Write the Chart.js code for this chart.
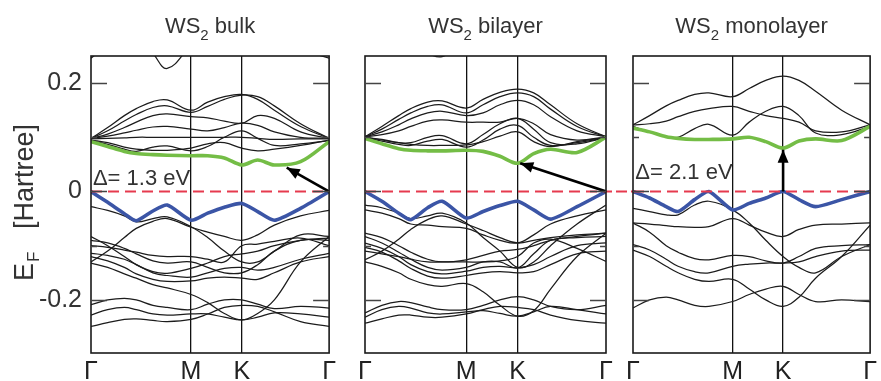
<!DOCTYPE html>
<html>
<head>
<meta charset="utf-8">
<script src="https://cdn.jsdelivr.net/npm/chart.js@4.4.1/dist/chart.umd.min.js"></script>
<style>
  body { margin: 0; background: #fff; width: 881px; height: 381px; overflow: hidden; position: relative; }
  .panel { position: absolute; top: 0; height: 381px; }
</style>
</head>
<body>
<div class="panel" style="left:0;width:340px"><canvas id="bulk"></canvas></div>
<div class="panel" style="left:340px;width:281px"><canvas id="bilayer"></canvas></div>
<div class="panel" style="left:621px;width:260px"><canvas id="monolayer"></canvas></div>

<script>
// k-path positions (Γ - M - K - Γ), shared by all panels
const X_POS = [0, 0.07, 0.14, 0.19, 0.26, 0.32, 0.42, 0.49, 0.56, 0.633, 0.7, 0.77, 0.88, 1];
const X_TICKS = [0, 0.42, 0.633, 1];
const X_LABELS = ['Γ', 'M', 'K', 'Γ'];
const Y_TICKS = [-0.2, 0, 0.2];
const Y_LABELS = ['-0.2', '0', '0.2'];
const Y_MINOR = [-0.1, 0.1];
const FERMI_X = [0, 1];
const FERMI_Y = [0, 0];

const TITLES = ['bulk', 'bilayer', 'monolayer'];
const GAP_LABELS = ['Δ= 1.3 eV', '', 'Δ= 2.1 eV'];

// ---- WS2 bulk ----
const BULK_CB = [0.092, 0.083, 0.074, 0.07, 0.068, 0.067, 0.066, 0.066, 0.062, 0.049, 0.058, 0.049, 0.055, 0.092];
const BULK_VB = [0, -0.02, -0.041, -0.054, -0.036, -0.025, -0.053, -0.04, -0.029, -0.022, -0.037, -0.053, -0.031, 0];
const BULK_BANDS = [
  [0.246, 0.27, 0.29, 0.29, 0.255, 0.227, 0.27, 0.3, 0.3, 0.3, 0.3, 0.28, 0.262, 0.246],
  [0.098, 0.118, 0.14, 0.153, 0.166, 0.169, 0.15, 0.165, 0.175, 0.179, 0.17, 0.15, 0.12, 0.098],
  [0.098, 0.112, 0.13, 0.142, 0.155, 0.158, 0.146, 0.157, 0.17, 0.178, 0.175, 0.158, 0.125, 0.098],
  [0.098, 0.106, 0.118, 0.128, 0.14, 0.143, 0.138, 0.136, 0.13, 0.126, 0.14, 0.135, 0.11, 0.098],
  [0.098, 0.102, 0.108, 0.113, 0.119, 0.12, 0.115, 0.112, 0.118, 0.126, 0.122, 0.11, 0.1, 0.098],
  [0.097, 0.098, 0.099, 0.1, 0.1, 0.1, 0.1, 0.1, 0.1, 0.1, 0.098, 0.096, 0.097, 0.097],
  [0.094, 0.087, 0.078, 0.074, 0.082, 0.084, 0.075, 0.083, 0.1, 0.112, 0.098, 0.085, 0.088, 0.094],
  [0.095, 0.09, 0.082, 0.078, 0.076, 0.076, 0.08, 0.088, 0.09, 0.08, 0.075, 0.078, 0.085, 0.095],
  [-0.028, -0.035, -0.045, -0.056, -0.05, -0.047, -0.065, -0.085, -0.11, -0.13, -0.13, -0.11, -0.08, -0.083],
  [-0.13, -0.11, -0.085, -0.068, -0.055, -0.05, -0.066, -0.075, -0.083, -0.09, -0.08, -0.062, -0.045, -0.035],
  [-0.083, -0.1, -0.12, -0.135, -0.148, -0.151, -0.142, -0.132, -0.12, -0.115, -0.11, -0.1, -0.09, -0.086],
  [-0.09, -0.095, -0.105, -0.115, -0.128, -0.132, -0.13, -0.14, -0.15, -0.15, -0.135, -0.11, -0.09, -0.09],
  [-0.114, -0.118, -0.125, -0.135, -0.15, -0.155, -0.158, -0.15, -0.142, -0.14, -0.145, -0.14, -0.125, -0.114],
  [-0.12, -0.128, -0.14, -0.152, -0.162, -0.166, -0.165, -0.16, -0.158, -0.16, -0.162, -0.15, -0.13, -0.12],
  [-0.132, -0.14, -0.152, -0.16, -0.172, -0.178, -0.19, -0.205, -0.225, -0.237, -0.225, -0.2, -0.13, -0.083],
  [-0.1, -0.103, -0.108, -0.112, -0.118, -0.12, -0.12, -0.125, -0.13, -0.1, -0.097, -0.092, -0.086, -0.1],
  [-0.209, -0.2, -0.197, -0.2, -0.21, -0.214, -0.218, -0.208, -0.2, -0.2, -0.208, -0.216, -0.212, -0.215],
  [-0.228, -0.218, -0.214, -0.218, -0.226, -0.228, -0.226, -0.226, -0.232, -0.237, -0.232, -0.224, -0.226, -0.232],
  [-0.249, -0.242, -0.236, -0.235, -0.238, -0.24, -0.236, -0.226, -0.214, -0.21, -0.212, -0.222, -0.24, -0.249]
];
const BULK_ARROW_X = [1, 0.822];
const BULK_ARROW_Y = [0, 0.044];

// ---- WS2 bilayer ----
const BI_CB = [0.098, 0.088, 0.079, 0.076, 0.075, 0.075, 0.076, 0.074, 0.065, 0.052, 0.07, 0.078, 0.072, 0.1];
const BI_VB = [0, -0.018, -0.04, -0.052, -0.03, -0.018, -0.049, -0.037, -0.026, -0.018, -0.034, -0.051, -0.028, 0];
const BI_BANDS = [
  [0.3, 0.3, 0.29, 0.275, 0.255, 0.249, 0.275, 0.3, 0.3, 0.3, 0.3, 0.3, 0.3, 0.3],
  [0.101, 0.12, 0.14, 0.153, 0.165, 0.167, 0.154, 0.17, 0.183, 0.189, 0.182, 0.16, 0.125, 0.101],
  [0.101, 0.115, 0.133, 0.145, 0.157, 0.16, 0.145, 0.16, 0.175, 0.182, 0.175, 0.152, 0.12, 0.101],
  [0.101, 0.11, 0.123, 0.134, 0.145, 0.148, 0.14, 0.145, 0.16, 0.168, 0.16, 0.138, 0.112, 0.101],
  [0.101, 0.105, 0.112, 0.12, 0.13, 0.132, 0.128, 0.128, 0.128, 0.135, 0.125, 0.105, 0.095, 0.101],
  [0.1, 0.095, 0.09, 0.09, 0.1, 0.103, 0.088, 0.105, 0.125, 0.135, 0.115, 0.09, 0.088, 0.1],
  [0.099, 0.093, 0.087, 0.085, 0.093, 0.096, 0.082, 0.095, 0.115, 0.122, 0.1, 0.085, 0.09, 0.099],
  [0.1, 0.096, 0.09, 0.087, 0.085, 0.085, 0.086, 0.092, 0.102, 0.11, 0.092, 0.083, 0.092, 0.1],
  [-0.025, -0.03, -0.04, -0.05, -0.045, -0.04, -0.058, -0.085, -0.11, -0.14, -0.13, -0.1, -0.06, -0.025],
  [-0.034, -0.04, -0.05, -0.06, -0.062, -0.065, -0.068, -0.08, -0.09, -0.095, -0.08, -0.06, -0.045, -0.034],
  [-0.126, -0.11, -0.088, -0.07, -0.052, -0.045, -0.06, -0.072, -0.085, -0.095, -0.09, -0.085, -0.08, -0.077],
  [-0.077, -0.085, -0.1, -0.112, -0.125, -0.13, -0.126, -0.118, -0.11, -0.107, -0.1, -0.09, -0.083, -0.077],
  [-0.083, -0.095, -0.112, -0.125, -0.14, -0.145, -0.14, -0.13, -0.13, -0.141, -0.115, -0.09, -0.085, -0.083],
  [-0.095, -0.105, -0.12, -0.135, -0.148, -0.152, -0.147, -0.14, -0.138, -0.141, -0.135, -0.12, -0.1, -0.095],
  [-0.103, -0.112, -0.128, -0.142, -0.156, -0.16, -0.155, -0.15, -0.148, -0.15, -0.148, -0.135, -0.115, -0.11],
  [-0.11, -0.115, -0.12, -0.125, -0.13, -0.13, -0.13, -0.13, -0.128, -0.12, -0.095, -0.088, -0.105, -0.129],
  [-0.13, -0.138, -0.15, -0.162, -0.172, -0.175, -0.17, -0.185, -0.21, -0.23, -0.22, -0.18, -0.12, -0.077],
  [-0.224, -0.21, -0.203, -0.205, -0.213, -0.218, -0.218, -0.21, -0.2, -0.194, -0.2, -0.212, -0.218, -0.21],
  [-0.232, -0.218, -0.212, -0.215, -0.224, -0.226, -0.222, -0.22, -0.225, -0.23, -0.222, -0.212, -0.218, -0.226],
  [-0.243, -0.235, -0.228, -0.228, -0.232, -0.232, -0.226, -0.218, -0.212, -0.214, -0.218, -0.228, -0.238, -0.243]
];
const BI_ARROW_X = [1, 0.644];
const BI_ARROW_Y = [0, 0.052];

// ---- WS2 monolayer ----
const MONO_CB = [0.117, 0.11, 0.101, 0.098, 0.096, 0.096, 0.097, 0.1, 0.092, 0.08, 0.093, 0.097, 0.094, 0.12];
const MONO_VB = [0, -0.012, -0.028, -0.037, -0.015, 0, -0.034, -0.022, -0.012, 0, -0.015, -0.028, -0.015, 0];
const MONO_BANDS = [
  [0.123, 0.14, 0.158, 0.168, 0.179, 0.182, 0.175, 0.19, 0.205, 0.213, 0.205, 0.185, 0.15, 0.123],
  [0.123, 0.125, 0.13, 0.138, 0.148, 0.153, 0.157, 0.148, 0.14, 0.135, 0.128, 0.112, 0.11, 0.123],
  [0.12, 0.11, 0.101, 0.1, 0.116, 0.124, 0.104, 0.128, 0.148, 0.157, 0.14, 0.108, 0.105, 0.12],
  [-0.031, -0.037, -0.043, -0.043, -0.025, -0.018, -0.034, -0.058, -0.09, -0.12, -0.14, -0.15, -0.12, -0.098],
  [-0.058, -0.06, -0.063, -0.065, -0.066, -0.065, -0.05, -0.062, -0.075, -0.083, -0.07, -0.062, -0.06, -0.058],
  [-0.058, -0.075, -0.1, -0.112, -0.124, -0.126, -0.118, -0.12, -0.128, -0.132, -0.12, -0.105, -0.1, -0.098],
  [-0.098, -0.108, -0.125, -0.138, -0.148, -0.15, -0.138, -0.134, -0.132, -0.132, -0.13, -0.12, -0.11, -0.108],
  [-0.108, -0.12, -0.138, -0.15, -0.162, -0.166, -0.162, -0.18, -0.2, -0.212, -0.195, -0.16, -0.12, -0.062],
  [-0.215, -0.2, -0.195, -0.2, -0.21, -0.212, -0.203, -0.19, -0.18, -0.175, -0.19, -0.203, -0.2, -0.203]
];
const MONO_ARROW_X = [0.633, 0.633];
const MONO_ARROW_Y = [0, 0.077];

const FONT = "'Liberation Sans', Arial, Helvetica, sans-serif";
const TEXT = '#333';
const RED = '#e63a4e';

function series(xs, ys) {
  return ys.map((y, i) => ({ x: xs[i], y: y }));
}

// frame, inside ticks, arrow heads, titles and labels
function makeDeco(cfg) {
  return {
    id: 'deco',
    afterDatasetsDraw(chart) {
      const ctx = chart.ctx, a = chart.chartArea;
      const x = chart.scales.x, y = chart.scales.y;
      ctx.save();

      if (cfg.zeroExtend) {
        const y0 = y.getPixelForValue(0);
        ctx.strokeStyle = RED;
        ctx.lineWidth = 2;
        ctx.setLineDash([6, 4]);
        ctx.beginPath();
        if (cfg.zeroExtend === 'right') { ctx.moveTo(a.right, y0); ctx.lineTo(chart.width, y0); }
        else { ctx.moveTo(0, y0); ctx.lineTo(a.left, y0); }
        ctx.stroke();
        ctx.setLineDash([]);
      }

      // arrow head
      const x1 = x.getPixelForValue(cfg.arrowX[0]), y1 = y.getPixelForValue(cfg.arrowY[0]);
      const x2 = x.getPixelForValue(cfg.arrowX[1]), y2 = y.getPixelForValue(cfg.arrowY[1]);
      ctx.save();
      ctx.translate(x2, y2);
      ctx.rotate(Math.atan2(y2 - y1, x2 - x1));
      ctx.fillStyle = '#000';
      ctx.beginPath();
      ctx.moveTo(0, 0);
      ctx.lineTo(-13, -5.5);
      ctx.lineTo(-13, 5.5);
      ctx.closePath();
      ctx.fill();
      ctx.restore();

      // frame
      ctx.strokeStyle = '#1a1a1a';
      ctx.lineWidth = 1.6;
      ctx.strokeRect(a.left, a.top, a.right - a.left, a.bottom - a.top);

      // inside tick marks
      ctx.strokeStyle = '#444';
      ctx.lineWidth = 1.5;
      ctx.beginPath();
      Y_TICKS.forEach(v => {
        const p = Math.round(y.getPixelForValue(v)) + 0.5;
        ctx.moveTo(a.left, p); ctx.lineTo(a.left + 16, p);
        ctx.moveTo(a.right - 16, p); ctx.lineTo(a.right, p);
      });
      Y_MINOR.forEach(v => {
        const p = Math.round(y.getPixelForValue(v)) + 0.5;
        ctx.moveTo(a.left, p); ctx.lineTo(a.left + 6, p);
        ctx.moveTo(a.right - 6, p); ctx.lineTo(a.right, p);
      });
      ctx.stroke();

      // gap label
      ctx.fillStyle = TEXT;
      ctx.textBaseline = 'alphabetic';
      ctx.textAlign = 'left';
      if (cfg.gapText) {
        ctx.font = '22px ' + FONT;
        ctx.fillText(cfg.gapText, x.getPixelForValue(cfg.gapAt[0]), y.getPixelForValue(cfg.gapAt[1]));
      }

      // panel title with subscript
      const big = '22px ' + FONT, small = '15px ' + FONT;
      ctx.font = big;
      const w1 = ctx.measureText('WS').width;
      const w3 = ctx.measureText(' ' + cfg.title).width;
      ctx.font = small;
      const w2 = ctx.measureText('2').width;
      let tx = (a.left + a.right) / 2 - (w1 + w2 + w3) / 2;
      ctx.font = big;
      ctx.fillText('WS', tx, 33);
      ctx.font = small;
      ctx.fillText('2', tx + w1, 40);
      ctx.font = big;
      ctx.fillText(' ' + cfg.title, tx + w1 + w2, 33);

      // y-axis title
      if (cfg.yTitle) {
        ctx.save();
        ctx.translate(33, 281);
        ctx.rotate(-Math.PI / 2);
        ctx.font = '27px ' + FONT;
        ctx.fillText('E', 0, 0);
        const we = ctx.measureText('E').width;
        ctx.font = '17px ' + FONT;
        ctx.fillText('F', we + 1, 6);
        ctx.font = '27px ' + FONT;
        ctx.fillText('[Hartree]', 52, 0);
        ctx.restore();
      }
      ctx.restore();
    }
  };
}

function makePanel(id, cfg) {
  const datasets = [];
  datasets.push({
    data: series(cfg.arrowX, cfg.arrowY),
    borderColor: '#000', borderWidth: 2.6, tension: 0
  });
  datasets.push({
    data: series(FERMI_X, FERMI_Y),
    borderColor: RED, borderWidth: 2, borderDash: [11, 6], tension: 0
  });
  datasets.push({
    data: series(X_POS, cfg.cb),
    borderColor: '#74bd46', borderWidth: 3.6, tension: 0.3
  });
  datasets.push({
    data: series(X_POS, cfg.vb),
    borderColor: '#3b55a6', borderWidth: 3.6, tension: 0.22
  });
  cfg.bands.forEach(b => {
    datasets.push({
      data: series(X_POS, b),
      borderColor: '#1c1c1c', borderWidth: 1.25, tension: 0.4
    });
  });

  new Chart(document.getElementById(id), {
    type: 'line',
    data: { datasets: datasets },
    options: {
      responsive: true,
      maintainAspectRatio: false,
      animation: false,
      events: [],
      layout: { padding: cfg.padding },
      elements: { point: { radius: 0 }, line: { fill: false } },
      datasets: { line: { clip: 0 } },
      plugins: { legend: { display: false }, tooltip: { enabled: false } },
      scales: {
        x: {
          type: 'linear', min: 0, max: 1,
          afterBuildTicks: s => { s.ticks = X_TICKS.map(v => ({ value: v })); },
          afterFit: s => { s.height = 28; },
          ticks: {
            autoSkip: false, maxRotation: 0, padding: 4,
            color: '#222', font: { size: 25, family: FONT },
            callback: (v, i) => X_LABELS[i]
          },
          grid: {
            drawTicks: false,
            lineWidth: 1.3,
            color: c => (c.index === 1 || c.index === 2) ? '#111' : 'rgba(0,0,0,0)'
          },
          border: { display: false }
        },
        y: {
          type: 'linear', min: -0.298, max: 0.25,
          display: cfg.yLabels,
          afterBuildTicks: s => { s.ticks = Y_TICKS.map(v => ({ value: v })); },
          afterFit: s => { s.width = cfg.yLabels ? 91 : 0; },
          ticks: {
            padding: 9, color: TEXT, font: { size: 25, family: FONT },
            callback: (v, i) => Y_LABELS[i]
          },
          grid: { display: false, drawTicks: false },
          border: { display: false }
        }
      }
    },
    plugins: [makeDeco(cfg)]
  });
}

makePanel('bulk', {
  bands: BULK_BANDS, cb: BULK_CB, vb: BULK_VB,
  arrowX: BULK_ARROW_X, arrowY: BULK_ARROW_Y,
  title: TITLES[0], gapText: GAP_LABELS[0], gapAt: [0.008, 0.012],
  yLabels: true, yTitle: true, zeroExtend: null,
  padding: { top: 56, right: 9, bottom: 0, left: 0 }
});
makePanel('bilayer', {
  bands: BI_BANDS, cb: BI_CB, vb: BI_VB,
  arrowX: BI_ARROW_X, arrowY: BI_ARROW_Y,
  title: TITLES[1], gapText: GAP_LABELS[1], gapAt: [0, 0],
  yLabels: false, yTitle: false, zeroExtend: 'right',
  padding: { top: 56, right: 15, bottom: 0, left: 25 }
});
makePanel('monolayer', {
  bands: MONO_BANDS, cb: MONO_CB, vb: MONO_VB,
  arrowX: MONO_ARROW_X, arrowY: MONO_ARROW_Y,
  title: TITLES[2], gapText: GAP_LABELS[2], gapAt: [0.01, 0.023],
  yLabels: false, yTitle: false, zeroExtend: 'left',
  padding: { top: 56, right: 8, bottom: 0, left: 12 }
});
</script>
</body>
</html>
